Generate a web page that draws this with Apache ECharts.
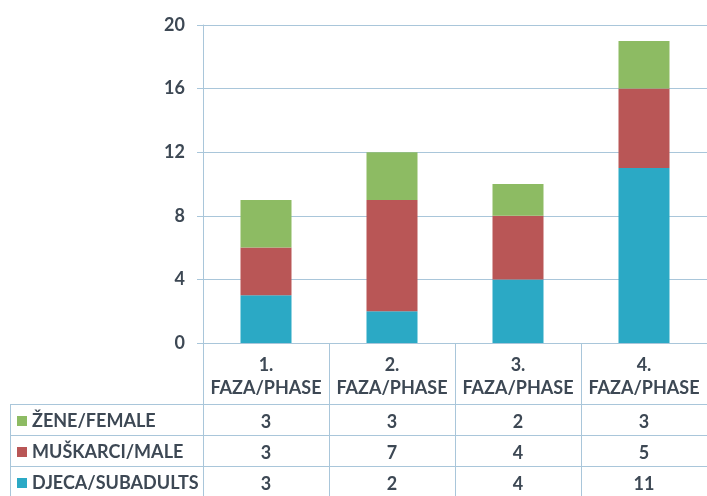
<!DOCTYPE html>
<html>
<head>
<meta charset="utf-8">
<script src="https://cdn.jsdelivr.net/npm/echarts@6/dist/echarts.min.js"></script>
<style>
  html, body { margin: 0; padding: 0; background: #fff; }
  #main { width: 707px; height: 496px; }
</style>
</head>
<body>
<div id="main"></div>
<script>
// podaci s grafa
const categories = ['1.\nFAZA/PHASE', '2.\nFAZA/PHASE', '3.\nFAZA/PHASE', '4.\nFAZA/PHASE']
const seriesNames = ['ŽENE/FEMALE', 'MUŠKARCI/MALE', 'DJECA/SUBADULTS']
const female = [3, 3, 2, 3]
const male = [3, 7, 4, 5]
const subadults = [3, 2, 4, 11]
const yTicks = [0, 4, 8, 12, 16, 20]

const lineColor = '#a9c6da'
const textColor = '#3d4854'
const font = 'Lato'
const fontSize = 18

const chart = echarts.init(document.getElementById('main'))

// dodatne osi za redove tablice ispod grafa
function tableAxis (values, offset) {
  return {
    type: 'category',
    position: 'bottom',
    offset: offset,
    data: values.map(String),
    axisLine: { show: true, lineStyle: { color: lineColor, width: 1 } },
    axisTick: { show: false },
    axisLabel: { interval: 0, margin: 9, color: textColor, fontFamily: font, fontWeight: 'bold', fontSize: fontSize }
  }
}

chart.setOption({
  animation: false,
  backgroundColor: '#fff',
  grid: { left: 203, top: 25, width: 508, height: 318 },
  legend: {
    data: seriesNames,
    orient: 'vertical',
    left: 17,
    top: 411,
    padding: 0,
    icon: 'rect',
    itemWidth: 10,
    itemHeight: 10,
    itemGap: 11,
    selectedMode: false,
    textStyle: { color: textColor, fontFamily: font, fontWeight: 'bold', fontSize: fontSize, lineHeight: 20 }
  },
  xAxis: [
    {
      type: 'category',
      data: categories,
      axisLine: { lineStyle: { color: lineColor } },
      axisTick: { show: true, interval: 0, length: 155, lineStyle: { color: lineColor } },
      axisLabel: { interval: 0, hideOverlap: false, align: 'center', margin: 11, lineHeight: 23, color: textColor, fontFamily: font, fontWeight: 'bold', fontSize: fontSize }
    },
    tableAxis(female, 61),
    tableAxis(male, 92),
    tableAxis(subadults, 123)
  ],
  yAxis: {
    type: 'value',
    min: yTicks[0],
    max: yTicks[yTicks.length - 1],
    interval: 4,
    axisLine: { show: true, lineStyle: { color: lineColor } },
    axisTick: { show: true, length: 6, lineStyle: { color: lineColor } },
    splitLine: { lineStyle: { color: lineColor } },
    axisLabel: { margin: 18, color: textColor, fontFamily: font, fontWeight: 'bold', fontSize: fontSize }
  },
  series: [
    { name: seriesNames[2], type: 'bar', stack: 'a', data: subadults, barWidth: 51, itemStyle: { color: '#2ba9c5' } },
    { name: seriesNames[1], type: 'bar', stack: 'a', data: male, barWidth: 51, itemStyle: { color: '#b95656' } },
    { name: seriesNames[0], type: 'bar', stack: 'a', data: female, barWidth: 51, itemStyle: { color: '#8dbb63' } }
  ],
  // okvir lijevog dijela tablice (legenda)
  graphic: [
    { type: 'line', shape: { x1: 10, y1: 404.5, x2: 203, y2: 404.5 }, style: { stroke: lineColor } },
    { type: 'line', shape: { x1: 10, y1: 435.5, x2: 203, y2: 435.5 }, style: { stroke: lineColor } },
    { type: 'line', shape: { x1: 10, y1: 466.5, x2: 203, y2: 466.5 }, style: { stroke: lineColor } },
    { type: 'line', shape: { x1: 10.5, y1: 404, x2: 10.5, y2: 496 }, style: { stroke: lineColor } }
  ]
})
</script>
</body>
</html>
